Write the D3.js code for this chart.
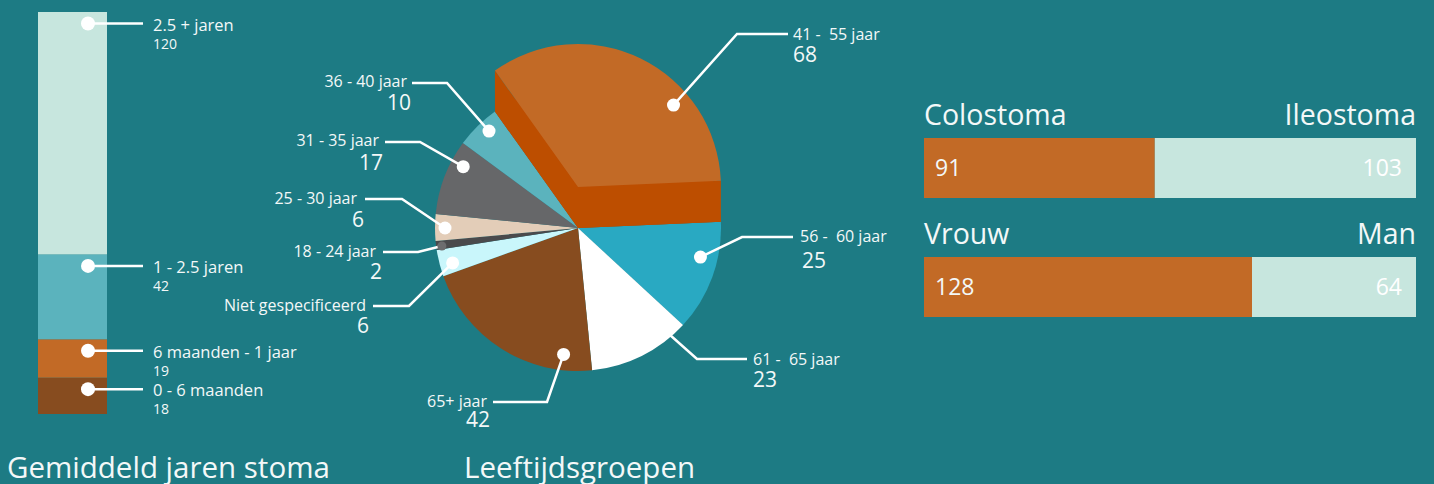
<!DOCTYPE html>
<html><head><meta charset="utf-8">
<script src="https://cdn.jsdelivr.net/npm/d3@7"></script>
<style>
html,body{margin:0;padding:0;background:#1d7b84;overflow:hidden;}
svg{display:block;font-family:"Open Sans",sans-serif;}
text{white-space:pre;}
</style>
</head><body>
<svg id="chart" width="1434" height="484"></svg>
<script>
// ---------- DATA ----------
const durationCategories = ["0 - 6 maanden", "6 maanden - 1 jaar", "1 - 2.5 jaren", "2.5 + jaren"];
const durationValues = [18, 19, 42, 120];
const durationTitle = "Gemiddeld jaren stoma";

const ageCategories = ["41 -  55 jaar", "56 -  60 jaar", "61 -  65 jaar", "65+ jaar", "Niet gespecificeerd", "18 - 24 jaar", "25 - 30 jaar", "31 - 35 jaar", "36 - 40 jaar"];
const ageValues = [68, 25, 23, 42, 6, 2, 6, 17, 10];
const ageTitle = "Leeftijdsgroepen";

const stomaCategories = ["Colostoma", "Ileostoma"];
const stomaValues = [91, 103];
const genderCategories = ["Vrouw", "Man"];
const genderValues = [128, 64];

// ---------- STYLE / LAYOUT ----------
const BG = "#1d7b84";
const TXT = "#f3f8f8";
const durationColors = ["#874c1f", "#c26a26", "#5bb3bd", "#c7e6de"];
const ageColors = ["#c26a26", "#29a9c2", "#ffffff", "#874c1f", "#c9f6fb", "#4a4a4c", "#e3cdb8", "#666769", "#5bb3bd"];
const explodedSide = "#bd4e00";
// label layout for pie (t: position in slice, rf: radius fraction, elbow/end offsets from pie centre)
const pieLabelLayout = [
  {t: 0.69, rf: 0.88, elbow: [159, -194], end: [210, -194], anchor: "start", lx: 215, ly: -188, vx: 215, vy: -166},
  {t: 0.35, rf: 0.88, elbow: [164, 9], end: [215, 9], anchor: "start", lx: 222, ly: 14, vx: 224, vy: 40},
  {t: 0.18, rf: 0.88, elbow: [119, 131], end: [169, 131], anchor: "start", lx: 175, ly: 137, vx: 175, vy: 159},
  {t: 0.16, rf: 0.89, elbow: [-31, 174], end: [-85, 174], anchor: "end", lx: -91, ly: 179, vx: -88, vy: 199},
  {t: 0.38, rf: 0.91, elbow: [-169, 78], end: [-205, 78], anchor: "end", lx: -212, ly: 83, vx: -209, vy: 105},
  {t: 0.36, rf: 0.96, elbow: [-160, 24], end: [-195, 24], anchor: "end", lx: -202, ly: 29, vx: -196, vy: 51},
  {t: 0.48, rf: 0.93, elbow: [-176, -29], end: [-213, -29], anchor: "end", lx: -221, ly: -24, vx: -214, vy: -1},
  {t: 0.73, rf: 0.91, elbow: [-158, -86], end: [-193, -86], anchor: "end", lx: -199, ly: -82, vx: -195, vy: -58},
  {t: 0.61, rf: 0.92, elbow: [-131, -145], end: [-166, -145], anchor: "end", lx: -171, ly: -141, vx: -167, vy: -118}
];

const svg = d3.select("#chart");
svg.append("rect").attr("width", 1434).attr("height", 484).attr("fill", BG);

// ---------- LEFT STACKED BAR ----------
(function () {
  const total = d3.sum(durationValues);
  const y = d3.scaleLinear().domain([0, total]).range([414, 12]);
  const x0 = 38, w = 69;
  const g = svg.append("g");
  let cum = 0;
  const segs = durationValues.map((v, i) => {
    const s = {cat: durationCategories[i], v, y0: cum, y1: cum + v, c: durationColors[i]};
    cum += v;
    return s;
  });
  g.selectAll("rect.seg").data(segs).join("rect")
    .attr("x", x0).attr("width", w)
    .attr("y", d => y(d.y1)).attr("height", d => y(d.y0) - y(d.y1))
    .attr("fill", d => d.c);
  segs.forEach(d => {
    const dy = y(d.y1) + 11.5;
    g.append("line").attr("x1", 88).attr("x2", 143).attr("y1", dy).attr("y2", dy)
      .attr("stroke", "#fff").attr("stroke-width", 2.5);
    g.append("circle").attr("cx", 88).attr("cy", dy).attr("r", 7).attr("fill", "#fff");
    g.append("text").attr("x", 153).attr("y", dy + 7).attr("fill", TXT)
      .attr("font-size", 16.5).text(d.cat);
    g.append("text").attr("x", 153).attr("y", dy + 25).attr("fill", TXT)
      .attr("font-size", 14).text(d.v);
  });
  svg.append("text").attr("x", 7).attr("y", 478).attr("fill", TXT)
    .attr("font-size", 29.5).text(durationTitle);
})();

// ---------- PIE ----------
(function () {
  const cx = 578, cy = 228, R = 143, lift = 41;
  const start = -35.5 * Math.PI / 180;
  const pie = d3.pie().sort(null).startAngle(start).endAngle(start + 2 * Math.PI);
  const arcs = pie(ageValues);
  const arc = d3.arc().innerRadius(0).outerRadius(R);
  const g = svg.append("g").attr("transform", `translate(${cx},${cy})`);
  const pt = (a, r) => [Math.sin(a) * r, -Math.cos(a) * r];

  // normal slices
  g.selectAll("path.slice").data(arcs.slice(1)).join("path")
    .attr("d", arc).attr("fill", (d, i) => ageColors[i + 1]);

  // exploded slice: side walls
  const ex = arcs[0];
  g.append("path").attr("d", arc(ex)).attr("fill", explodedSide);
  [ex.startAngle, ex.endAngle].forEach(a => {
    const p = pt(a, R);
    g.append("path")
      .attr("d", `M0,0L${p[0]},${p[1]}L${p[0]},${p[1] - lift}L0,${-lift}Z`)
      .attr("fill", explodedSide);
  });
  g.append("path").attr("d", arc(ex)).attr("transform", `translate(0,${-lift})`)
    .attr("fill", ageColors[0]);

  // labels
  arcs.forEach((d, i) => {
    const L = pieLabelLayout[i];
    const a = d.startAngle + (d.endAngle - d.startAngle) * L.t;
    const p = pt(a, R * L.rf);
    if (i === 0) p[1] -= lift;
    const small = d.value < 4;
    g.append("polyline")
      .attr("points", [p, L.elbow, L.end].map(q => q.join(",")).join(" "))
      .attr("fill", "none").attr("stroke", "#fff").attr("stroke-width", 2.5);
    g.append("circle").attr("cx", p[0]).attr("cy", p[1]).attr("r", small ? 4.5 : 6.5)
      .attr("fill", small ? "#6c6c6e" : "#fff");
    g.append("text").attr("x", L.lx).attr("y", L.ly).attr("text-anchor", L.anchor)
      .attr("fill", TXT).attr("font-size", 16).text(ageCategories[i]);
    g.append("text").attr("x", L.vx).attr("y", L.vy).attr("text-anchor", L.anchor)
      .attr("fill", TXT).attr("font-size", 21).text(d.value);
  });

  svg.append("text").attr("x", 464).attr("y", 478).attr("fill", TXT)
    .attr("font-size", 29.5).text(ageTitle);
})();

// ---------- RIGHT SPLIT BARS ----------
(function () {
  const rows = [
    {cats: stomaCategories, vals: stomaValues, y: 138},
    {cats: genderCategories, vals: genderValues, y: 257}
  ];
  const h = 60;
  rows.forEach(r => {
    const x = d3.scaleLinear().domain([0, d3.sum(r.vals)]).range([924, 1416]);
    const g = svg.append("g");
    g.append("rect").attr("x", x(0)).attr("y", r.y).attr("width", x(r.vals[0]) - x(0)).attr("height", h)
      .attr("fill", "#c26a26");
    g.append("rect").attr("x", x(r.vals[0])).attr("y", r.y).attr("width", x(d3.sum(r.vals)) - x(r.vals[0])).attr("height", h)
      .attr("fill", "#c7e6de");
    g.append("text").attr("x", x(0)).attr("y", r.y - 13).attr("fill", TXT)
      .attr("font-size", 28.5).text(r.cats[0]);
    g.append("text").attr("x", x.range()[1]).attr("y", r.y - 13).attr("text-anchor", "end").attr("fill", TXT)
      .attr("font-size", 28.5).text(r.cats[1]);
    g.append("text").attr("x", x(0) + 11).attr("y", r.y + 37.5).attr("fill", TXT)
      .attr("font-size", 23).text(r.vals[0]);
    g.append("text").attr("x", x.range()[1] - 14).attr("y", r.y + 37.5).attr("text-anchor", "end").attr("fill", "#ffffff")
      .attr("font-size", 23).text(r.vals[1]);
  });
})();
</script>
</body></html>
